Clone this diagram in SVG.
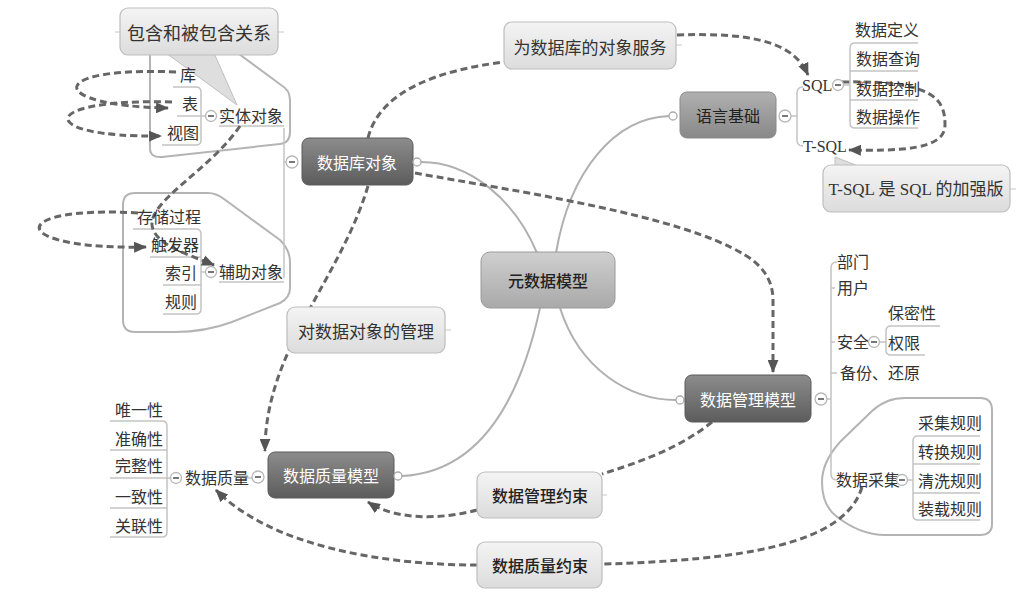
<svg xmlns="http://www.w3.org/2000/svg" width="1024" height="597" viewBox="0 0 1024 597">
<style>
.bg{fill:#ffffff}
.t{font-family:"Noto Sans CJK SC","Noto Sans",sans-serif;font-size:16px;dominant-baseline:central;fill:#333}
.leaf{font-family:"Liberation Serif","Noto Sans CJK SC",serif;font-size:16px;dominant-baseline:central;fill:#333}
.c{text-anchor:middle}
.e{text-anchor:end}
.w{fill:#ffffff}
.dark{fill:url(#gDark);stroke:#5a5a5a;stroke-width:1}
.mid{fill:url(#gMid);stroke:#8a8a8a;stroke-width:1}
.center{fill:url(#gCenter);stroke:#9a9a9a;stroke-width:1}
.light{fill:url(#gLight);stroke:#bdbdbd;stroke-width:1.2}
.br{fill:none;stroke:#c4c4c4;stroke-width:1.5}
.bound{fill:none;stroke:#b4b4b4;stroke-width:2}
.sol{fill:none;stroke:#b0b0b0;stroke-width:2}
.dash{fill:none;stroke:#666;stroke-width:3;stroke-dasharray:7 4}
.col{fill:#fff;stroke:#b8b8b8;stroke-width:1.3}
.dot{fill:#fff;stroke:#aaa;stroke-width:1.3}
.minus{stroke:#555;stroke-width:1.6}
.tail{fill:#dedede;stroke:#c0c0c0;stroke-width:1}
</style>
<defs>
<linearGradient id="gDark" x1="0" y1="0" x2="0" y2="1"><stop offset="0" stop-color="#8c8c8c"/><stop offset="1" stop-color="#5c5c5c"/></linearGradient>
<linearGradient id="gMid" x1="0" y1="0" x2="0" y2="1"><stop offset="0" stop-color="#b0b0b0"/><stop offset="1" stop-color="#888888"/></linearGradient>
<linearGradient id="gCenter" x1="0" y1="0" x2="0" y2="1"><stop offset="0" stop-color="#cfcfcf"/><stop offset="1" stop-color="#a9a9a9"/></linearGradient>
<linearGradient id="gLight" x1="0" y1="0" x2="0" y2="1"><stop offset="0" stop-color="#f4f4f4"/><stop offset="1" stop-color="#dcdcdc"/></linearGradient>
<marker id="arr" viewBox="0 0 12 10" refX="11" refY="5" markerWidth="13" markerHeight="11" markerUnits="userSpaceOnUse" orient="auto"><path d="M0,0 L12,5 L0,10 z" fill="#555"/></marker>
</defs>
<rect class="bg" x="0" y="0" width="1024" height="597"/>

<!-- boundaries -->
<g id="boundaries">
<path class="bound" d="M150,40 L150,148 Q150,158 162,157 L280,144 Q290,143 290,132 L290,100 Q290,90 281,85 L220,40"/>
<path class="bound" d="M135,193 L208,193 Q216,193 224,199 L280,240 Q290,250 290,262 L290,288 Q290,298 280,303 L232,322 Q205,332 175,332 L135,332 Q123,332 123,320 L123,205 Q123,193 135,193 Z"/>
<path class="bound" d="M905,398 L980,398 Q992,398 992,410 L992,524 Q992,535 980,535 L885,535 Q860,535 836,516 Q822,505 822,482 Q822,462 840,442 L872,411 Q886,398 905,398 Z"/>
</g>

<!-- connectors -->
<g id="connectors">
<path class="sol" d="M537,253 C 515,200 470,162 421,162"/>
<path class="sol" d="M556,253 C 570,170 615,118 669,116"/>
<path class="sol" d="M560,308 C 580,370 630,400 676,400"/>
<path class="sol" d="M540,308 C 520,400 480,472 402,476"/>

<!-- brackets -->
<path class="br" d="M284,128 L284,278"/>
<path class="br" d="M284,162 L286,162"/>
<path class="br" d="M219,126 L284,126"/>
<path class="br" d="M219,282 L284,282"/>
<path class="br" d="M173,87 L196,87 Q201,87 201,92 L201,140 Q201,145 196,145 L162,145"/>
<path class="br" d="M177,116 L205,116"/>
<path class="br" d="M133,229 L196,229 Q201,229 201,234 L201,309 Q201,314 196,314 L163,314"/>
<path class="br" d="M150,257 L201,257 M163,285 L201,285 M201,272 L205,272"/>
<path class="br" d="M803,87 Q797,87 797,93 L797,140 Q797,146 803,146 M791,116 L797,116"/>
<path class="br" d="M855,43 Q850,43 850,48 L850,123 Q850,128 855,128 L918,128 M855,43 L918,43 M850,71 L918,71 M850,100 L918,100 M844,85 L850,85"/>
<path class="br" d="M837,262 Q831,262 831,268 L831,474 Q831,480 837,480 M827,399 L831,399 M831,288 L835,288 M831,342 L835,342 M831,373 L837,373"/>
<path class="br" d="M891,326 Q886,326 886,331 L886,350 Q886,355 891,355 L925,355 M891,326 L940,326 M880,342 L886,342"/>
<path class="br" d="M918,436 Q913,436 913,441 L913,515 Q913,520 918,520 L980,520 M918,436 L980,436 M913,464 L980,464 M913,493 L980,493 M908,480 L913,480"/>
<path class="br" d="M110,421 L162,421 Q167,421 167,426 L167,532 Q167,537 162,537 L110,537 M110,450 L167,450 M110,478 L170,478 M110,508 L167,508"/>
<path class="br" d="M243,478 L252,478"/>

<!-- dashed relations -->
<path class="dash" d="M176,72 C 45,66 45,106 168,108" marker-end="url(#arr)"/>
<path class="dash" d="M172,102 C 35,98 35,138 161,136" marker-end="url(#arr)"/>
<path class="dash" d="M138,213 C 5,205 5,250 146,247" marker-end="url(#arr)"/>
<path class="dash" d="M240,126 C 210,170 150,200 152,225 C 154,245 190,255 214,265" marker-end="url(#arr)"/>
<path class="dash" d="M368,138 C 380,90 440,70 504,62"/>
<path class="dash" d="M677,35 C 760,32 795,45 808,75" marker-end="url(#arr)"/>
<path class="dash" d="M842,82 C 935,80 945,100 945,125 C 945,150 900,151 849,150" marker-end="url(#arr)"/>
<path class="dash" d="M415,173 C 520,192 680,215 745,255 Q773,272 773,300 L773,372" marker-end="url(#arr)"/>
<path class="dash" d="M712,422 C 680,448 640,462 602,474"/>
<path class="dash" d="M477,510 C 440,520 395,520 368,502" marker-end="url(#arr)"/>
<path class="dash" d="M862,487 C 845,545 740,560 604,564"/>
<path class="dash" d="M477,565 C 380,565 270,545 216,490" marker-end="url(#arr)"/>
<path class="dash" d="M368,186 C 340,280 265,350 265,451" marker-end="url(#arr)"/>
</g>

<!-- nodes -->
<g id="n-baohan">
<line x1="115" y1="32" x2="120" y2="32" stroke="#c8c8c8"/>
<line x1="278" y1="32" x2="284" y2="32" stroke="#c8c8c8"/>
<polygon class="tail" points="166,53 237,105 214,53"/>
<rect class="light" x="120" y="8" width="158" height="47" rx="8"/>
<text class="t c" x="199" y="32" style="font-size:18px">包含和被包含关系</text>
</g>
<g id="n-ku"><text class="leaf e" x="196" y="75">库</text></g>
<g id="n-biao"><text class="leaf e" x="198" y="104">表</text></g>
<g id="n-shitu"><text class="leaf e" x="199" y="133">视图</text></g>
<g id="n-shiti">
<circle class="col" cx="211" cy="116" r="5.5"/><line class="minus" x1="208" y1="116" x2="214" y2="116"/>
<text class="leaf" x="219" y="116">实体对象</text>
</g>
<g id="n-cunchu"><text class="leaf e" x="201" y="217">存储过程</text></g>
<g id="n-chufa"><text class="leaf e" x="199" y="245">触发器</text></g>
<g id="n-suoyin"><text class="leaf e" x="197" y="273">索引</text></g>
<g id="n-guize"><text class="leaf e" x="197" y="302">规则</text></g>
<g id="n-fuzhu">
<circle class="col" cx="211" cy="272" r="5.5"/><line class="minus" x1="208" y1="272" x2="214" y2="272"/>
<text class="leaf" x="219" y="272">辅助对象</text>
</g>

<g id="n-dbobj">
<circle class="col" cx="292" cy="162" r="6"/><line class="minus" x1="289" y1="162" x2="295" y2="162"/>
<rect class="dark" x="302" y="138" width="111" height="47" rx="7"/>
<text class="t c w" x="357" y="162">数据库对象</text>
<circle class="dot" cx="417" cy="162" r="4"/>
</g>

<g id="n-fuwu">
<line x1="676" y1="45" x2="682" y2="45" stroke="#c8c8c8"/>
<rect class="light" x="504" y="22" width="172" height="47" rx="8"/>
<text class="t c" x="590" y="46" style="font-size:17px">为数据库的对象服务</text>
</g>

<g id="n-yuyan">
<circle class="dot" cx="673" cy="116" r="4"/>
<rect class="mid" x="680" y="92" width="96" height="46" rx="7"/>
<text class="t c" x="728" y="115" style="fill:#222">语言基础</text>
<circle class="col" cx="785" cy="116" r="6"/><line class="minus" x1="782" y1="116" x2="788" y2="116"/>
</g>
<g id="n-sql">
<text class="leaf" x="802" y="85">SQL</text>
<circle class="col" cx="838" cy="85" r="5.5"/><line class="minus" x1="835" y1="85" x2="841" y2="85"/>
</g>
<g id="n-tsql"><text class="leaf" x="803" y="146">T-SQL</text></g>
<g id="n-dingyi"><text class="leaf" x="855" y="30">数据定义</text></g>
<g id="n-chaxun"><text class="leaf" x="856" y="59">数据查询</text></g>
<g id="n-kongzhi"><text class="leaf" x="856" y="89">数据控制</text></g>
<g id="n-caozuo"><text class="leaf" x="856" y="117">数据操作</text></g>
<g id="n-jiaqiang">
<line x1="1010" y1="189" x2="1016" y2="189" stroke="#c8c8c8"/>
<polygon class="tail" points="835,166 835,157 858,166"/>
<rect class="light" x="823" y="165" width="187" height="47" rx="8"/>
<text class="leaf c" x="916" y="189" style="font-size:17px">T-SQL 是 SQL 的加强版</text>
</g>

<g id="n-center">
<rect class="center" x="481" y="252" width="134" height="56" rx="9"/>
<text class="t c" x="548" y="280" style="fill:#222;font-weight:500">元数据模型</text>
</g>

<g id="n-guanli">
<line x1="445" y1="330" x2="451" y2="330" stroke="#c8c8c8"/>
<rect class="light" x="287" y="307" width="158" height="46" rx="8"/>
<text class="t c" x="366" y="330" style="font-size:17px">对数据对象的管理</text>
</g>

<g id="n-mgmt">
<circle class="dot" cx="680" cy="400" r="4"/>
<rect class="dark" x="685" y="375" width="126" height="47" rx="7"/>
<text class="t c w" x="748" y="399">数据管理模型</text>
<circle class="col" cx="821" cy="399" r="6"/><line class="minus" x1="818" y1="399" x2="824" y2="399"/>
</g>
<g id="n-bumen"><text class="leaf" x="837" y="262">部门</text></g>
<g id="n-yonghu"><text class="leaf" x="837" y="288">用户</text></g>
<g id="n-anquan">
<text class="leaf" x="837" y="342">安全</text>
<circle class="col" cx="874" cy="342" r="5.5"/><line class="minus" x1="871" y1="342" x2="877" y2="342"/>
</g>
<g id="n-baomi"><text class="leaf" x="888" y="313">保密性</text></g>
<g id="n-quanxian"><text class="leaf" x="888" y="343">权限</text></g>
<g id="n-beifen"><text class="leaf" x="840" y="373">备份、还原</text></g>
<g id="n-caiji">
<text class="leaf" x="836" y="480">数据采集</text>
<circle class="col" cx="902" cy="480" r="5.5"/><line class="minus" x1="899" y1="480" x2="905" y2="480"/>
</g>
<g id="n-cjgz"><text class="leaf" x="918" y="423">采集规则</text></g>
<g id="n-zhgz"><text class="leaf" x="918" y="452">转换规则</text></g>
<g id="n-qxgz"><text class="leaf" x="918" y="481">清洗规则</text></g>
<g id="n-zzgz"><text class="leaf" x="918" y="509">装载规则</text></g>

<g id="n-quality">
<circle class="col" cx="258" cy="477" r="6"/><line class="minus" x1="255" y1="477" x2="261" y2="477"/>
<rect class="dark" x="268" y="452" width="126" height="46" rx="7"/>
<text class="t c w" x="331" y="475">数据质量模型</text>
<circle class="dot" cx="398" cy="476" r="4"/>
</g>
<g id="n-zhiliang">
<circle class="col" cx="176" cy="478" r="5.5"/><line class="minus" x1="173" y1="478" x2="179" y2="478"/>
<text class="leaf" x="185" y="478">数据质量</text>
</g>
<g id="n-weiyi"><text class="leaf e" x="163" y="410">唯一性</text></g>
<g id="n-zhunque"><text class="leaf e" x="163" y="439">准确性</text></g>
<g id="n-wanzheng"><text class="leaf e" x="163" y="466">完整性</text></g>
<g id="n-yizhi"><text class="leaf e" x="163" y="497">一致性</text></g>
<g id="n-guanlian"><text class="leaf e" x="163" y="526">关联性</text></g>

<g id="n-glys">
<line x1="602" y1="495" x2="607" y2="495" stroke="#c8c8c8"/>
<rect class="light" x="477" y="472" width="125" height="46" rx="8"/>
<text class="t c" x="540" y="495" style="fill:#222;font-weight:500">数据管理约束</text>
</g>
<g id="n-zlys">
<rect class="light" x="477" y="542" width="125" height="46" rx="8"/>
<text class="t c" x="540" y="565" style="fill:#222;font-weight:500">数据质量约束</text>
</g>
</svg>
